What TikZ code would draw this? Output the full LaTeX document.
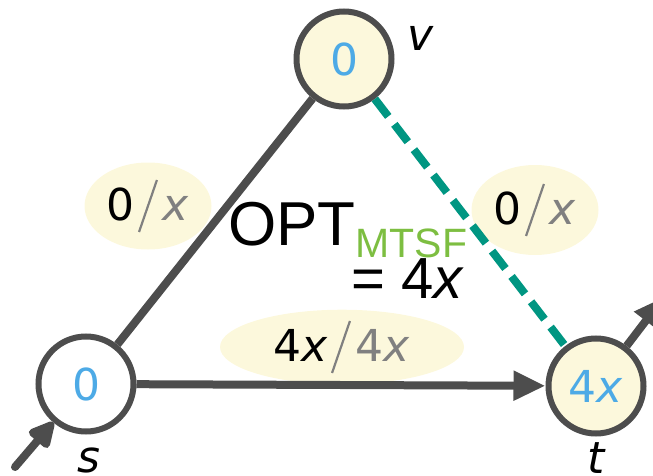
\documentclass[tikz,border=0pt]{standalone}
\usepackage{fontspec}
\usepackage{graphicx}
\setmainfont{DejaVu Sans}
\newfontfamily\arialf{Liberation Sans}
\usetikzlibrary{arrows.meta,shapes.geometric}
\definecolor{edgegray}{RGB}{77,77,77}
\definecolor{tealdash}{RGB}{0,150,130}
\definecolor{paleyellow}{RGB}{252,248,220}
\definecolor{nodeblue}{RGB}{77,170,230}
\definecolor{mtsfgreen}{RGB}{125,190,65}
\definecolor{flowgray}{RGB}{128,128,128}
\newcommand{\thinslash}{\hspace{3pt}\raisebox{-11pt}{\rotatebox{-19}{\color{flowgray}\rule{2.2pt}{55pt}}}\hspace{5pt}}
\begin{document}
\begin{tikzpicture}[x=1pt,y=-1pt,
  vertex/.style={circle,draw=edgegray,line width=6pt,minimum size=95pt,inner sep=0pt,
    text=nodeblue,font=\fontsize{44}{50}\selectfont},
  vname/.style={font=\fontsize{44}{50}\selectfont\itshape,text=black,inner sep=0pt},
  edgeline/.style={draw=edgegray,line width=8pt},
  arrowedge/.style={edgeline,-{Triangle[length=32pt,width=28pt]}},
  inarrow/.style={edgeline,line cap=round,-{Triangle[length=30pt,width=28pt,round]}},
  flowlabel/.style={ellipse,fill=paleyellow,inner sep=0pt,font=\fontsize{44}{50}\selectfont},
  dashedge/.style={draw=tealdash,line width=8pt,dash pattern=on 22pt off 10pt}
]
\useasboundingbox (0,0) rectangle (653,476);
\clip (0,0) rectangle (653,476);

% edge labels (behind edges)
\node[flowlabel,minimum width=127pt,minimum height=87pt] (lsv) at (148,206) {0\thinslash{\color{flowgray}\itshape x}};
\node[flowlabel,minimum width=127pt,minimum height=90pt] (lvt) at (535,210) {0\thinslash{\color{flowgray}\itshape x}};
\node[flowlabel,minimum width=244pt,minimum height=74pt] (lst) at (342,347) {4{\itshape x}\thinslash{\color{flowgray}4{\itshape x}}};

% vertices
\node[vertex,fill=paleyellow] (v) at (344,59) {0};
\node[vertex,fill=white] (s) at (86,384) {0};
\node[vertex,fill=paleyellow] (t) at (596,386) {4{\itshape x}};

% vertex names
\node[vname] (vn) at (421,38) {v};
\node[vname] (sn) at (89,460) {s};
\node[vname] (tn) at (596,458) {t};

% edges
\draw[edgeline] (s) -- (v);
\draw[arrowedge] (s) -- (t);
\draw[dashedge] (v) -- (t);

\coordinate (inpt) at (15,467);
\coordinate (outpt) at (664,297);
\draw[inarrow] (inpt) -- (s);
\draw[edgeline,-{Triangle[length=30pt,width=28pt]}] (t) -- (outpt);

% objective
\node[anchor=base west,inner sep=0pt] (opt) at (228,245)
  {\arialf\fontsize{62}{70}\selectfont OPT\raisebox{-12pt}{\fontsize{41}{46}\selectfont\color{mtsfgreen}MTSF}};
\node[anchor=base east,inner sep=0pt] (val) at (463,298)
  {\arialf\fontsize{58}{64}\selectfont = 4{\itshape x}};
\end{tikzpicture}
\end{document}
